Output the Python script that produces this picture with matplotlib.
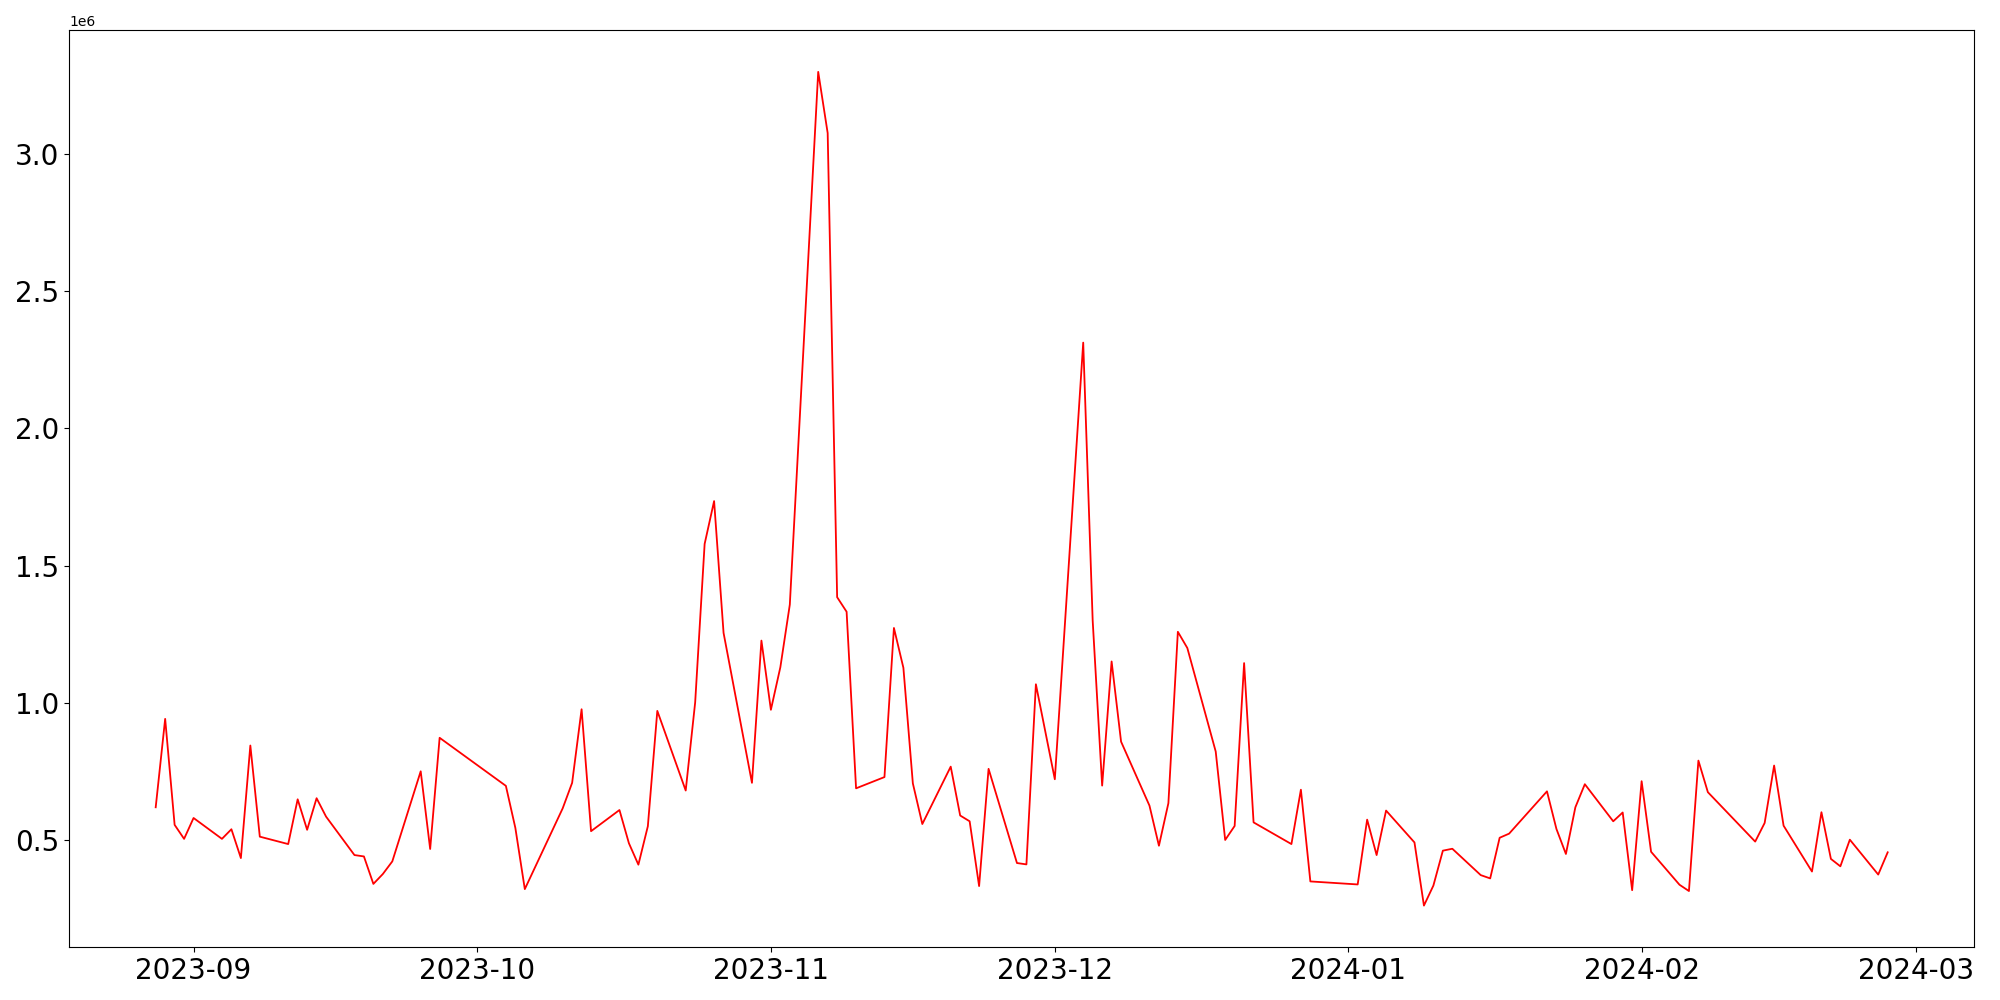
import matplotlib
matplotlib.use('Agg')
import matplotlib.pyplot as plt
import pandas as pd

dates = ['2023-08-28', '2023-08-29', '2023-08-30', '2023-08-31', '2023-09-01',
         '2023-09-04', '2023-09-05', '2023-09-06', '2023-09-07', '2023-09-08',
         '2023-09-11', '2023-09-12', '2023-09-13', '2023-09-14', '2023-09-15',
         '2023-09-18', '2023-09-19', '2023-09-20', '2023-09-21', '2023-09-22',
         '2023-09-25', '2023-09-26', '2023-09-27', '2023-10-04', '2023-10-05',
         '2023-10-06', '2023-10-10', '2023-10-11', '2023-10-12', '2023-10-13',
         '2023-10-16', '2023-10-17', '2023-10-18', '2023-10-19', '2023-10-20',
         '2023-10-23', '2023-10-24', '2023-10-25', '2023-10-26', '2023-10-27',
         '2023-10-30', '2023-10-31', '2023-11-01', '2023-11-02', '2023-11-03',
         '2023-11-06', '2023-11-07', '2023-11-08', '2023-11-09', '2023-11-10',
         '2023-11-13', '2023-11-14', '2023-11-15', '2023-11-16', '2023-11-17',
         '2023-11-20', '2023-11-21', '2023-11-22', '2023-11-23', '2023-11-24',
         '2023-11-27', '2023-11-28', '2023-11-29', '2023-12-01', '2023-12-04',
         '2023-12-05', '2023-12-06', '2023-12-07', '2023-12-08', '2023-12-11',
         '2023-12-12', '2023-12-13', '2023-12-14', '2023-12-15', '2023-12-18',
         '2023-12-19', '2023-12-20', '2023-12-21', '2023-12-22', '2023-12-26',
         '2023-12-27', '2023-12-28', '2024-01-02', '2024-01-03', '2024-01-04',
         '2024-01-05', '2024-01-08', '2024-01-09', '2024-01-10', '2024-01-11',
         '2024-01-12', '2024-01-15', '2024-01-16', '2024-01-17', '2024-01-18',
         '2024-01-22', '2024-01-23', '2024-01-24', '2024-01-25', '2024-01-26',
         '2024-01-29', '2024-01-30', '2024-01-31', '2024-02-01', '2024-02-02',
         '2024-02-05', '2024-02-06', '2024-02-07', '2024-02-08', '2024-02-13',
         '2024-02-14', '2024-02-15', '2024-02-16', '2024-02-19', '2024-02-20',
         '2024-02-21', '2024-02-22', '2024-02-23', '2024-02-26', '2024-02-27']

volume = [0.620, 0.942, 0.556, 0.505, 0.581,
          0.505, 0.540, 0.435, 0.845, 0.513,
          0.486, 0.649, 0.538, 0.653, 0.586,
          0.446, 0.441, 0.341, 0.377, 0.423,
          0.751, 0.468, 0.873, 0.698, 0.545,
          0.322, 0.616, 0.709, 0.977, 0.533,
          0.610, 0.489, 0.411, 0.551, 0.971,
          0.681, 1.002, 1.579, 1.735, 1.255,
          0.709, 1.227, 0.975, 1.130, 1.358,
          3.298, 3.075, 1.385, 1.332, 0.689,
          0.730, 1.273, 1.128, 0.707, 0.559,
          0.768, 0.590, 0.569, 0.333, 0.760,
          0.417, 0.412, 1.068, 0.722, 2.312,
          1.300, 0.699, 1.151, 0.859, 0.626,
          0.480, 0.635, 1.259, 1.200, 0.823,
          0.501, 0.552, 1.145, 0.565, 0.486,
          0.684, 0.350, 0.339, 0.575, 0.446,
          0.608, 0.492, 0.262, 0.335, 0.462,
          0.469, 0.373, 0.361, 0.509, 0.524,
          0.678, 0.541, 0.450, 0.620, 0.704,
          0.569, 0.601, 0.318, 0.715, 0.458,
          0.338, 0.315, 0.790, 0.675, 0.495,
          0.563, 0.772, 0.553, 0.386, 0.602,
          0.432, 0.405, 0.502, 0.375, 0.456]

x = pd.to_datetime(dates)
y = [v * 1e6 for v in volume]

fig, ax = plt.subplots(figsize=(20, 10), dpi=100)
ax.plot(x, y, color='red', linewidth=1.3)
ax.tick_params(axis='both', labelsize=20)
plt.tight_layout()
plt.savefig('out.png')
